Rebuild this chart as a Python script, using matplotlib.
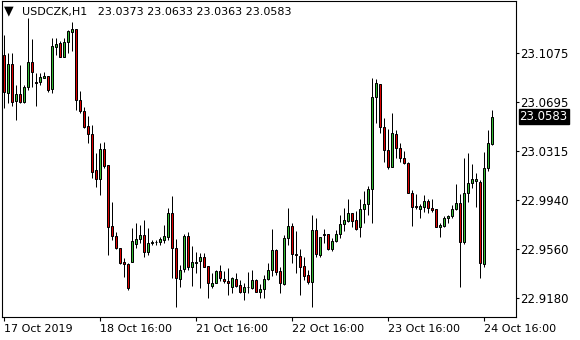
import matplotlib
matplotlib.use('Agg')
import matplotlib.pyplot as plt
import numpy as np

# USDCZK H1 candles, 17-24 Oct 2019
opens = [
    23.1061, 23.0764, 23.0991, 23.0707, 23.0756, 23.0694, 23.0810, 23.1004, 23.0854, 23.0854,
    23.0885, 23.0898, 23.0795, 23.1126, 23.1152, 23.1048, 23.1159, 23.1242, 23.1263, 23.0712,
    23.0627, 23.0510, 23.0446, 23.0169, 23.0097, 23.0330, 23.0208, 22.9735, 22.9657, 22.9562,
    22.9453, 22.9440, 22.9458, 22.9595, 22.9632, 22.9663, 22.9536, 22.9601, 22.9608, 22.9608,
    22.9626, 22.9652, 22.9833, 22.9562, 22.9321, 22.9399, 22.9657, 22.9420, 22.9451, 22.9466,
    22.9497, 22.9425, 22.9272, 22.9296, 22.9386, 22.9326, 22.9308, 22.9259, 22.9321, 22.9277,
    22.9221, 22.9259, 22.9252, 22.9316, 22.9226, 22.9244, 22.9321, 22.9394, 22.9549, 22.9386,
    22.9283, 22.9644, 22.9735, 22.9518, 22.9502, 22.9425, 22.9355, 22.9298, 22.9704, 22.9510,
    22.9663, 22.9670, 22.9554, 22.9619, 22.9670, 22.9748, 22.9776, 22.9833, 22.9781, 22.9730,
    22.9864, 22.9903, 23.0019, 23.0733, 23.0834, 23.0505, 23.0324, 23.0195, 23.0446, 23.0337,
    23.0265, 23.0221, 22.9993, 22.9893, 22.9864, 22.9885, 22.9931, 22.9872, 22.9864, 22.9730,
    22.9735, 22.9794, 22.9815, 22.9864, 22.9916, 22.9613, 22.9988, 23.0066, 23.0087, 23.0074,
    22.9438, 23.0182, 23.0373]
highs = [
    23.1216, 23.1074, 23.1074, 23.0828, 23.0983, 23.0828, 23.1345, 23.1183, 23.0919, 23.0924,
    23.0932, 23.0898, 23.1190, 23.1190, 23.1172, 23.1190, 23.1255, 23.1320, 23.1263, 23.0782,
    23.0660, 23.0588, 23.0518, 23.0298, 23.0376, 23.0389, 23.0208, 22.9924, 22.9691, 22.9562,
    22.9484, 22.9445, 22.9717, 22.9756, 22.9743, 22.9781, 22.9717, 22.9626, 22.9626, 22.9652,
    22.9743, 22.9872, 22.9968, 22.9632, 22.9433, 22.9673, 22.9691, 22.9580, 22.9536, 22.9523,
    22.9528, 22.9425, 22.9368, 22.9394, 22.9433, 22.9386, 22.9412, 22.9342, 22.9373, 22.9316,
    22.9296, 22.9381, 22.9394, 22.9321, 22.9285, 22.9355, 22.9445, 22.9709, 22.9554, 22.9420,
    22.9663, 22.9875, 22.9761, 22.9696, 22.9554, 22.9497, 22.9394, 22.9820, 22.9794, 22.9652,
    22.9714, 22.9673, 22.9639, 22.9704, 22.9820, 22.9872, 22.9942, 22.9833, 22.9851, 22.9942,
    23.0006, 23.0045, 23.0880, 23.0872, 23.0834, 23.0570, 23.0485, 23.0609, 23.0479, 23.0381,
    23.0317, 23.0234, 23.0014, 22.9983, 22.9903, 22.9975, 22.9942, 22.9942, 22.9864, 22.9756,
    22.9812, 22.9820, 22.9898, 23.0061, 22.9981, 23.0260, 23.0304, 23.0216, 23.0143, 23.0092,
    23.0306, 23.0479, 23.0633]
lows = [
    23.0647, 23.0686, 23.0668, 23.0557, 23.0686, 23.0686, 23.0790, 23.0815, 23.0668, 23.0828,
    23.0880, 23.0777, 23.0764, 23.1061, 23.1048, 23.1048, 23.1074, 23.1095, 23.0635, 23.0609,
    23.0492, 23.0376, 23.0105, 23.0040, 22.9975, 23.0182, 22.9510, 22.9626, 22.9554, 22.9438,
    22.9342, 22.9239, 22.9458, 22.9562, 22.9601, 22.9497, 22.9510, 22.9588, 22.9588, 22.9588,
    22.9601, 22.9626, 22.9329, 22.9109, 22.9259, 22.9381, 22.9394, 22.9270, 22.9368, 22.9252,
    22.9414, 22.9174, 22.9252, 22.9290, 22.9311, 22.9290, 22.9200, 22.9218, 22.9259, 22.9218,
    22.9161, 22.9213, 22.9244, 22.9223, 22.9174, 22.9174, 22.9316, 22.9350, 22.9355, 22.9213,
    22.9277, 22.9588, 22.9445, 22.9368, 22.9200, 22.9316, 22.9285, 22.9109, 22.9497, 22.9497,
    22.9601, 22.9549, 22.9544, 22.9613, 22.9639, 22.9699, 22.9769, 22.9730, 22.9704, 22.9652,
    22.9756, 22.9820, 22.9756, 23.0536, 23.0454, 23.0234, 23.0174, 23.0190, 23.0260, 23.0234,
    23.0216, 22.9988, 22.9735, 22.9867, 22.9800, 22.9846, 22.9833, 22.9846, 22.9725, 22.9652,
    22.9730, 22.9756, 22.9794, 22.9859, 22.9259, 22.9595, 22.9924, 23.0027, 22.9880, 22.9329,
    22.9414, 23.0164, 23.0363]
closes = [
    23.0777, 23.0991, 23.0694, 23.0756, 23.0694, 23.0810, 23.1004, 23.0932, 23.0841, 23.0888,
    23.0898, 23.0790, 23.1131, 23.1146, 23.1048, 23.1159, 23.1245, 23.1260, 23.0712, 23.0627,
    23.0505, 23.0446, 23.0156, 23.0099, 23.0330, 23.0200, 22.9730, 22.9657, 22.9562, 22.9445,
    22.9438, 22.9252, 22.9619, 22.9632, 22.9663, 22.9536, 22.9601, 22.9608, 22.9613, 22.9632,
    22.9657, 22.9833, 22.9562, 22.9329, 22.9394, 22.9657, 22.9420, 22.9453, 22.9458, 22.9497,
    22.9420, 22.9290, 22.9290, 22.9386, 22.9329, 22.9311, 22.9290, 22.9334, 22.9272, 22.9226,
    22.9264, 22.9264, 22.9316, 22.9226, 22.9246, 22.9321, 22.9394, 22.9549, 22.9381, 22.9290,
    22.9644, 22.9735, 22.9515, 22.9510, 22.9420, 22.9350, 22.9298, 22.9704, 22.9515, 22.9652,
    22.9670, 22.9554, 22.9621, 22.9670, 22.9748, 22.9781, 22.9833, 22.9776, 22.9712, 22.9864,
    22.9906, 23.0019, 23.0738, 23.0841, 23.0505, 23.0324, 23.0195, 23.0454, 23.0337, 23.0265,
    23.0221, 22.9993, 22.9885, 22.9885, 22.9890, 22.9931, 22.9872, 22.9859, 22.9725, 22.9743,
    22.9794, 22.9812, 22.9864, 22.9911, 22.9613, 22.9988, 23.0066, 23.0097, 23.0097, 22.9445,
    23.0182, 23.0376, 23.0583]

symbol = 'USDCZK,H1'
time_ticks = [0, 24, 48, 72, 96, 120]
time_labels = ['17 Oct 2019', '18 Oct 16:00', '21 Oct 16:00',
               '22 Oct 16:00', '23 Oct 16:00', '24 Oct 16:00']
price_ticks = [23.1075, 23.0695, 23.0315, 22.9940, 22.9560, 22.9180]

o = np.array(opens)
h = np.array(highs)
l = np.array(lows)
c = np.array(closes)
x = np.arange(len(o))
up = c >= o

fig = plt.figure(figsize=(5.8, 3.4), dpi=100)
ax = fig.add_axes([2/580, 1 - 317/340, 514/580, 316/340])

# wicks then bodies (4 px per bar, centres on pixel centres)
ax.vlines(x, l, h, color='black', linewidth=0.72, zorder=1)
ax.bar(x, np.abs(c - o), bottom=np.minimum(o, c), width=0.5,
       color=np.where(up, '#33bb33', '#dd0000'), edgecolor='black',
       linewidth=0.72, zorder=2)

ax.set_xlim(-0.375, 128.125)
ax.set_ylim(22.9029, 23.1480)

ax.set_xticks(time_ticks)
ax.set_xticklabels(time_labels, fontsize=8)
for lbl in ax.get_xticklabels():
    lbl.set_ha('left')
ax.tick_params(axis='x', direction='out', length=3, width=0.8, pad=2)

ax.yaxis.tick_right()
ax.set_yticks(price_ticks)
ax.set_yticklabels(['%.4f' % p for p in price_ticks], fontsize=8.5)
ax.tick_params(axis='y', direction='out', length=2.2, width=0.8, pad=0.6)

for s in ax.spines.values():
    s.set_linewidth(0.8)
    s.set_color('black')

# current price marker
ax.annotate('%.4f' % closes[-1], xy=(1, closes[-1]),
            xycoords=ax.get_yaxis_transform(), xytext=(2.6, 0),
            textcoords='offset points', ha='left', va='center',
            fontsize=8.5, color='white', annotation_clip=False,
            bbox=dict(boxstyle='square,pad=0.08', facecolor='black',
                      edgecolor='black'))

# header line
fig.text(4/580, 1 - 11/340, '\u25bc', fontsize=9, va='center')
fig.text(22/580, 1 - 12/340,
         '%s   %.4f %.4f %.4f %.4f' % (symbol, opens[-1], highs[-1], lows[-1], closes[-1]),
         fontsize=8, va='center')

fig.savefig('out.png', dpi=100)
